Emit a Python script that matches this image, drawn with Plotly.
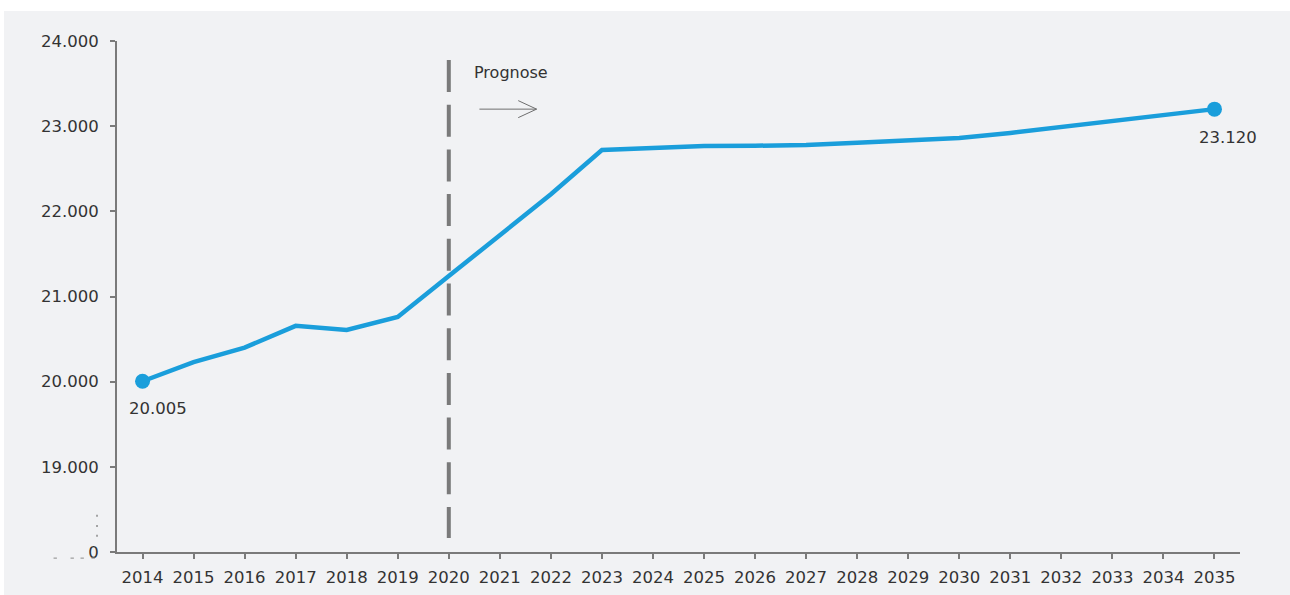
import plotly.graph_objects as go

years = list(range(2014, 2036))
values = [20005, 20230, 20400, 20655, 20607, 20760, 21240, 21720, 22200, 22720,
          22744, 22767, 22770, 22780, 22805, 22830, 22860, 22920, 22990, 23060,
          23130, 23200]
end_labels = ["20.005", "23.120"]
ytick_vals = [18000, 19000, 20000, 21000, 22000, 23000, 24000]
ytick_text = ["0", "19.000", "20.000", "21.000", "22.000", "23.000", "24.000"]

line_color = "#1a9edb"
axis_color = "#7a7a7a"
bg = "#f1f2f4"
font = "DejaVu Sans"
fs = 16.5

fig = go.Figure()
fig.add_trace(go.Scatter(x=years, y=values, mode="lines",
                         line=dict(color=line_color, width=4.5),
                         hoverinfo="skip", showlegend=False))
fig.add_trace(go.Scatter(x=[years[0], years[-1]], y=[values[0], values[-1]],
                         mode="markers", marker=dict(color=line_color, size=15),
                         showlegend=False, hoverinfo="skip"))

# plot area: 1123 x 511 px, left 117, top 41
shapes = [
    dict(type="rect", xref="paper", yref="paper", x0=-0.2, x1=1.2, y0=(511 + 30) / 511, y1=1.2,
         fillcolor="white", line=dict(width=0), layer="below"),
    dict(type="rect", xref="paper", yref="paper", x0=-0.2, x1=-113 / 1123, y0=-0.2, y1=1.2,
         fillcolor="white", line=dict(width=0), layer="below"),
    dict(type="line", xref="x", yref="y", x0=2020, x1=2020, y0=23777, y1=18165,
         line=dict(color="#7a7a7a", width=4, dash="32px,12.7px")),
    dict(type="path", xref="x", yref="y",
         path="M 2020.6 23200 L 2021.72 23200 M 2021.36 23300 L 2021.72 23200 L 2021.36 23100",
         line=dict(color="#6e6e6e", width=1)),
]
# axis break marks
for yy in [0.073, 0.053, 0.034]:
    shapes.append(dict(type="line", xref="paper", yref="paper", x0=-0.0178, x1=-0.0178,
                       y0=yy, y1=yy - 0.004, line=dict(color="#8a8a8a", width=1.5)))
for xx in [-0.0565, -0.0414, -0.0325, -0.0227]:
    shapes.append(dict(type="line", xref="paper", yref="paper", x0=xx, x1=xx + 0.003,
                       y0=-0.012, y1=-0.012, line=dict(color="#9a9a9a", width=1.2)))

annotations = [
    dict(x=years[0], y=values[0], text=end_labels[0], showarrow=False,
         xshift=15, yshift=-27, font=dict(size=fs, color="#333333", family=font)),
    dict(x=years[-1], y=values[-1], text=end_labels[1], showarrow=False,
         xshift=14, yshift=-28, font=dict(size=fs, color="#333333", family=font)),
    dict(x=2021.21, y=23636, text="Prognose", showarrow=False,
         font=dict(size=16, color="#333333", family=font)),
]

fig.update_layout(
    width=1290, height=595,
    margin=dict(l=117, r=50, t=41, b=43),
    paper_bgcolor=bg, plot_bgcolor=bg,
    shapes=shapes, annotations=annotations,
    font=dict(family=font, size=fs, color="#333333"),
    xaxis=dict(range=[2013.5, 2035.5], tickmode="array", tickvals=years,
               ticktext=[str(y) for y in years], showgrid=False, zeroline=False,
               showline=True, linecolor=axis_color, linewidth=2,
               ticks="outside", ticklen=5, tickcolor=axis_color, tickwidth=2,
               ticklabelstandoff=4, automargin=False,
               tickfont=dict(size=fs, color="#333333")),
    yaxis=dict(range=[18000, 24000], tickmode="array", tickvals=ytick_vals,
               ticktext=ytick_text, showgrid=False, zeroline=False,
               showline=True, linecolor=axis_color, linewidth=2,
               ticks="outside", ticklen=5, tickcolor=axis_color, tickwidth=2,
               ticklabelstandoff=8, automargin=False,
               tickfont=dict(size=fs, color="#333333")),
)

fig.write_html("out.html", config={"displayModeBar": False},
               post_script="document.body.style.margin='0';document.body.style.overflow='hidden';")
